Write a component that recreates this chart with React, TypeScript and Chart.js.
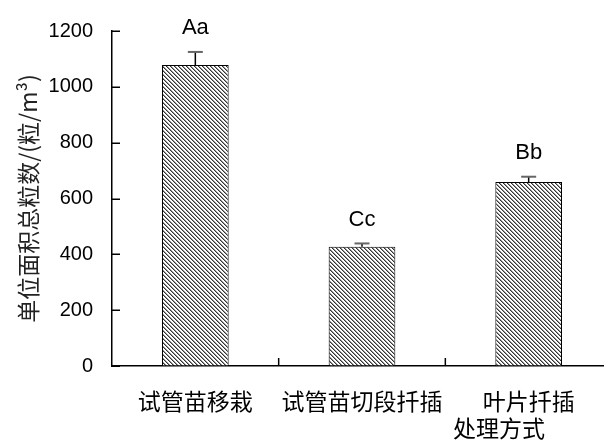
import React, { useEffect, useRef } from 'react';
import { Chart, registerables } from 'chart.js';
Chart.register(...registerables);

const categories = ['试管苗移栽', '试管苗切段扦插', '叶片扦插'];
const values = [1078, 427, 659];
const errors = [47, 12, 19];
const groupLabels = ['Aa', 'Cc', 'Bb'];
const yMin = 0;
const yMax = 1200;
const yStep = 200;
const yTitle = '单位面积总粒数/(粒/m³)';
const xTitle = '处理方式';

function makePattern(): CanvasPattern | string {
  const c = document.createElement('canvas');
  c.width = 4;
  c.height = 4;
  const g = c.getContext('2d');
  if (!g) return '#999';
  g.fillStyle = '#fff';
  g.fillRect(0, 0, 4, 4);
  for (let i = 0; i < 4; i++) {
    g.fillStyle = '#333';
    g.fillRect(i, i, 1, 1);
    g.fillStyle = '#999';
    g.fillRect((i + 1) % 4, i, 1, 1);
  }
  return g.createPattern(c, 'repeat') || '#999';
}

const extras = {
  id: 'extras',
  afterDraw(chart: any) {
    const ctx = chart.ctx;
    const x = chart.scales.x;
    const y = chart.scales.y;
    const area = chart.chartArea;
    ctx.save();
    ctx.strokeStyle = '#000';
    ctx.lineWidth = 1.5;
    for (let v = yMin; v <= yMax; v += yStep) {
      const py = Math.round(y.getPixelForValue(v)) + 0.25;
      ctx.beginPath();
      ctx.moveTo(area.left, py);
      ctx.lineTo(area.left + 8, py);
      ctx.stroke();
    }
    const catW = (area.right - area.left) / categories.length;
    for (let i = 1; i < categories.length; i++) {
      const px = x.getPixelForValue(i) - catW / 2;
      ctx.beginPath();
      ctx.moveTo(px, area.bottom);
      ctx.lineTo(px, area.bottom - 8);
      ctx.stroke();
    }
    for (let i = 0; i < values.length; i++) {
      const cx = x.getPixelForValue(i);
      const top = y.getPixelForValue(values[i]);
      const cap = y.getPixelForValue(values[i] + errors[i]);
      ctx.strokeStyle = '#000';
      ctx.lineWidth = 1.5;
      ctx.beginPath();
      ctx.moveTo(cx, top);
      ctx.lineTo(cx, cap);
      ctx.stroke();
      ctx.strokeStyle = '#666';
      ctx.lineWidth = 2;
      ctx.beginPath();
      ctx.moveTo(cx - 7.5, cap);
      ctx.lineTo(cx + 7.5, cap);
      ctx.stroke();
      ctx.fillStyle = '#000';
      ctx.font = '22px "Liberation Sans", Arial, sans-serif';
      ctx.textAlign = 'center';
      ctx.textBaseline = 'bottom';
      ctx.fillText(groupLabels[i], cx, cap - 13);
    }
    ctx.fillStyle = '#000';
    ctx.font = '23px "Noto Sans CJK SC", sans-serif';
    ctx.textAlign = 'center';
    ctx.textBaseline = 'middle';
    ctx.fillText(xTitle, area.left + (area.right - area.left) * 0.774, 428);
    ctx.restore();
  },
};

export default function App() {
  const ref = useRef<HTMLCanvasElement>(null);
  useEffect(() => {
    if (!ref.current) return;
    const pattern = makePattern();
    const chart = new Chart(ref.current, {
      type: 'bar',
      data: {
        labels: categories,
        datasets: [
          {
            data: values,
            backgroundColor: pattern as any,
            borderColor: '#000',
            borderWidth: 1,
            categoryPercentage: 1,
            barPercentage: 0.4,
          },
        ],
      },
      options: {
        animation: false,
        responsive: false,
        maintainAspectRatio: false,
        layout: { padding: { left: 0, right: 8, top: 29, bottom: 0 } },
        plugins: { legend: { display: false }, tooltip: { enabled: false } },
        scales: {
          x: {
            grid: { drawOnChartArea: false, drawTicks: false },
            border: { display: true, color: '#000', width: 1.5 },
            ticks: {
              color: '#000',
              font: { family: '"Noto Sans CJK SC", sans-serif', size: 23 },
              padding: 21,
              maxRotation: 0,
              autoSkip: false,
            },
            afterFit: (s: any) => {
              s.height = 82;
            },
          },
          y: {
            min: yMin,
            max: yMax,
            ticks: {
              stepSize: yStep,
              color: '#000',
              font: { family: '"Liberation Sans", Arial, sans-serif', size: 20 },
              padding: 19,
              callback: (v: any) => String(v),
            },
            grid: { drawOnChartArea: false, drawTicks: false },
            border: { display: true, color: '#000', width: 1.5 },
            title: {
              display: true,
              text: yTitle,
              color: '#222',
              font: { family: '"Noto Sans CJK SC", sans-serif', size: 23 },
              padding: { top: 14, bottom: 0 },
            },
            afterFit: (s: any) => {
              s.width = 112;
            },
          },
        },
      },
      plugins: [extras],
    });
    return () => chart.destroy();
  }, []);
  return (
    <div style={{ position: 'fixed', left: 0, top: 0, width: 604, height: 448, overflow: 'hidden', background: '#fff' }}>
      <canvas ref={ref} width={620} height={448} style={{ display: 'block', width: 620, height: 448 }} />
    </div>
  );
}
